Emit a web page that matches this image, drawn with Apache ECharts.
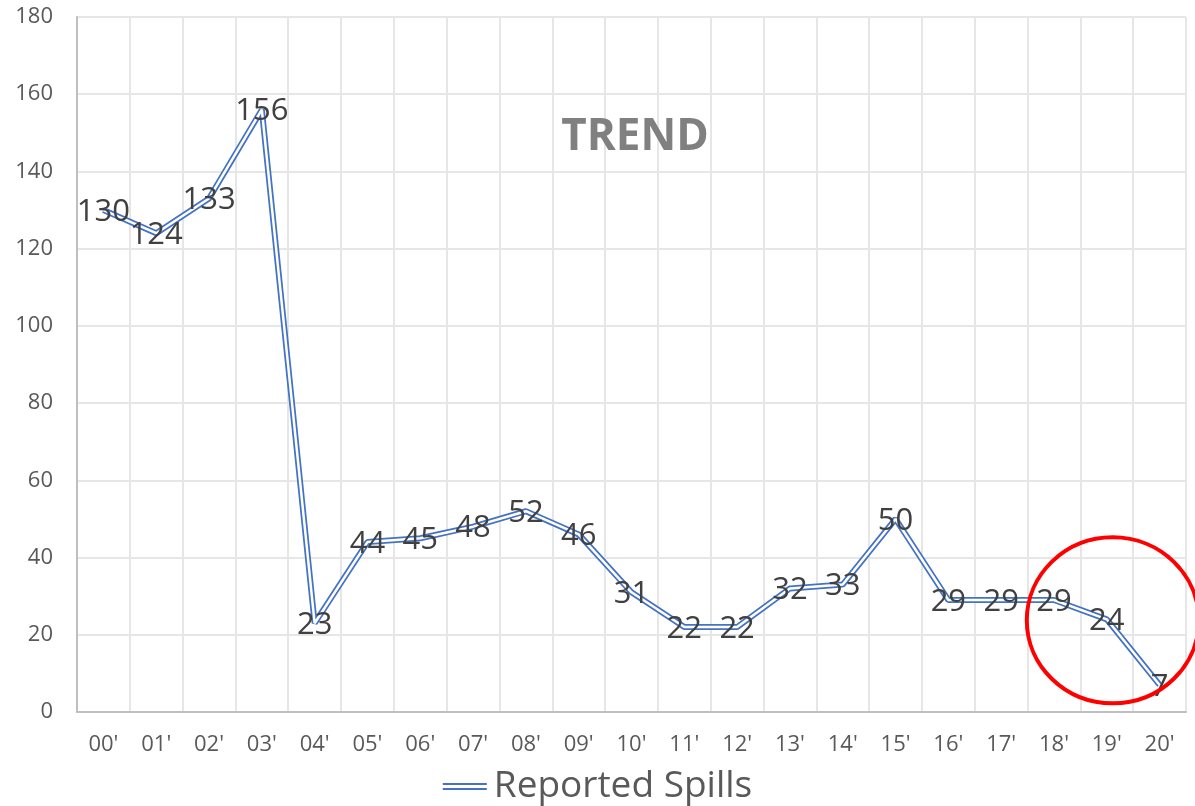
<!DOCTYPE html>
<html>
<head>
<meta charset="utf-8">
<script src="https://cdn.jsdelivr.net/npm/echarts@6/dist/echarts.min.js"></script>
<style>
html,body{margin:0;padding:0;background:#fff;}
#chart{width:1195px;height:806px;}
</style>
</head>
<body>
<div id="chart"></div>
<script>
const categories = ["00'","01'","02'","03'","04'","05'","06'","07'","08'","09'","10'","11'","12'","13'","14'","15'","16'","17'","18'","19'","20'"];
const reportedSpills = [130,124,133,156,23,44,45,48,52,46,31,22,22,32,33,50,29,29,29,24,7];
const seriesName = 'Reported Spills';
const titleText = 'TREND';
const yMin = 0, yMax = 180, yInterval = 20;

const FONT = '"Open Sans", "Liberation Sans", sans-serif';
const chart = echarts.init(document.getElementById('chart'), null, {renderer: 'canvas'});

chart.setOption({
  animation: false,
  backgroundColor: '#ffffff',
  title: {
    text: titleText,
    left: 630, top: 110, textAlign: 'center',
    textStyle: {fontFamily: FONT, fontSize: 44, fontWeight: 'bold', color: '#808080'}
  },
  grid: {left: 77, right: 9, top: 17, bottom: 94, containLabel: false},
  legend: {
    data: [{name: seriesName, icon: 'path://M0,0H44V2H0Z M0,5H44V7H0Z'}],
    bottom: -4, left: 'center',
    itemWidth: 44, itemHeight: 7, itemGap: 10,
    textStyle: {fontFamily: FONT, fontSize: 37, color: '#595959', padding: [0, 0, 0, 2]},
    itemStyle: {color: '#4472C4'}
  },
  xAxis: {
    type: 'category',
    data: categories,
    boundaryGap: true,
    axisLine: {show: true, lineStyle: {color: '#bfbfbf', width: 2}},
    axisTick: {show: false},
    axisLabel: {fontFamily: FONT, fontSize: 22, color: '#595959', margin: 22, interval: 0},
    splitLine: {show: true, interval: 0, lineStyle: {color: '#e6e6e6', width: 2}}
  },
  yAxis: {
    type: 'value',
    min: yMin, max: yMax, interval: yInterval,
    axisLine: {show: true, lineStyle: {color: '#bfbfbf', width: 2}},
    axisTick: {show: false},
    axisLabel: {fontFamily: FONT, fontSize: 22, color: '#595959', margin: 24},
    splitLine: {show: true, lineStyle: {color: '#e6e6e6', width: 2}}
  },
  series: [
    {
      name: seriesName,
      type: 'line',
      data: reportedSpills,
      symbol: 'none',
      lineStyle: {color: '#4472C4', width: 6},
      itemStyle: {color: '#4472C4'},
      z: 2
    },
    {
      name: seriesName + ' inner',
      type: 'line',
      data: reportedSpills,
      symbol: 'circle',
      symbolSize: 1,
      showSymbol: true,
      itemStyle: {color: 'rgba(255,255,255,0)'},
      lineStyle: {color: '#ffffff', width: 2.5},
      label: {
        show: true, position: 'inside',
        fontFamily: FONT, fontSize: 31, color: '#404040',
        offset: [0, 2]
      },
      z: 3
    }
  ]
});

// Red annotation circle around the last two points (19' - 20')
const c = chart.convertToPixel({xAxisIndex: 0, yAxisIndex: 0}, [19, 24]);
chart.setOption({
  graphic: [{
    type: 'ellipse',
    shape: {cx: c[0] + 6, cy: c[1] + 1, rx: 86, ry: 83},
    style: {fill: 'none', stroke: '#ff0000', lineWidth: 4},
    z: 100
  }]
});
</script>
</body>
</html>
